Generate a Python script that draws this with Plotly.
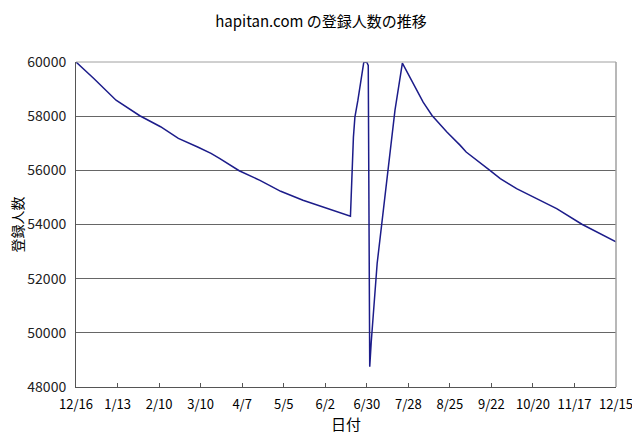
import plotly.graph_objects as go

dates = [
    "2006-12-16", "2006-12-28", "2007-01-12", "2007-01-28", "2007-02-11",
    "2007-02-23", "2007-03-08", "2007-03-17", "2007-03-23", "2007-04-05",
    "2007-04-19", "2007-05-03", "2007-05-18", "2007-06-03", "2007-06-19",
    "2007-06-21", "2007-06-22", "2007-06-24", "2007-06-28", "2007-06-30",
    "2007-07-01", "2007-07-02", "2007-07-03", "2007-07-07", "2007-07-10",
    "2007-07-15", "2007-07-19", "2007-07-24", "2007-08-01", "2007-08-07",
    "2007-08-13", "2007-08-23", "2007-09-01", "2007-09-05", "2007-09-21",
    "2007-09-28", "2007-10-09", "2007-10-18", "2007-10-29", "2007-11-05",
    "2007-11-22", "2007-12-04", "2007-12-15",
]
members = [
    60000, 59392, 58590, 58016, 57610,
    57180, 56860, 56626, 56431, 55985,
    55631, 55225, 54893, 54587, 54310,
    57227, 57965, 58580, 59993, 59993,
    59871, 48750, 49650, 52560, 54034,
    56490, 58212, 59960, 59134, 58518,
    58027, 57412, 56921, 56675, 56000,
    55694, 55325, 55078, 54772, 54588,
    54009, 53666, 53357,
]

tick_dates = [
    "2006-12-16", "2007-01-13", "2007-02-10", "2007-03-10", "2007-04-07",
    "2007-05-05", "2007-06-02", "2007-06-30", "2007-07-28", "2007-08-25",
    "2007-09-22", "2007-10-20", "2007-11-17", "2007-12-15",
]
tick_labels = ["12/16", "1/13", "2/10", "3/10", "4/7", "5/5", "6/2",
               "6/30", "7/28", "8/25", "9/22", "10/20", "11/17", "12/15"]
y_ticks = [48000, 50000, 52000, 54000, 56000, 58000, 60000]

FONT = "Noto Sans CJK JP, Liberation Sans, sans-serif"

fig = go.Figure()
fig.add_trace(go.Scatter(
    x=dates, y=members, mode="lines",
    line=dict(color="#1c1c8a", width=1.5),
    hoverinfo="x+y", showlegend=False,
))

fig.update_layout(
    width=632, height=432,
    margin=dict(l=67.5, r=24, t=53.5, b=53, autoexpand=False),
    paper_bgcolor="white", plot_bgcolor="white",
    font=dict(family=FONT, size=13, color="black"),
    title=dict(text="hapitan.com の登録人数の推移", x=313 / 632, xanchor="center",
               xref="container",
               y=1 - 14 / 432, yanchor="middle", font=dict(size=15, family=FONT)),
    xaxis=dict(
        type="date", automargin=False,
        range=["2006-12-16", "2007-12-15"],
        tickmode="array", tickvals=tick_dates, ticktext=tick_labels,
        ticks="inside", ticklen=4, tickcolor="#555", tickwidth=1,
        showgrid=False, zeroline=False,
        showline=True, linecolor="#555", linewidth=1,
        ticklabelstandoff=5,
        tickfont=dict(size=13, family=FONT),
        title=dict(text="日付", font=dict(size=15, family=FONT), standoff=4),
    ),
    yaxis=dict(
        range=[48000, 60000], automargin=False,
        tickmode="array", tickvals=y_ticks,
        ticktext=[str(v) for v in y_ticks],
        ticks="outside", ticklen=6, tickcolor="rgba(0,0,0,0)",
        showgrid=True, gridcolor="#666", gridwidth=1,
        zeroline=False,
        showline=True, linecolor="#555", linewidth=1,
        tickfont=dict(size=14, family=FONT, color="#222"),
    ),
    annotations=[
        dict(text="登録人数", textangle=-90, xref="paper", yref="paper",
             x=0, y=0.5, xanchor="center", yanchor="middle",
             xshift=-60, showarrow=False, font=dict(size=14, family=FONT)),
    ],
    shapes=[
        dict(type="line", xref="paper", yref="paper", x0=0, x1=1, y0=1, y1=1,
             line=dict(color="#a0a0a0", width=1)),
        dict(type="line", xref="paper", yref="paper", x0=1, x1=1, y0=0, y1=1,
             line=dict(color="#a0a0a0", width=1.5)),
    ],
)

fig.write_html("out.html")
